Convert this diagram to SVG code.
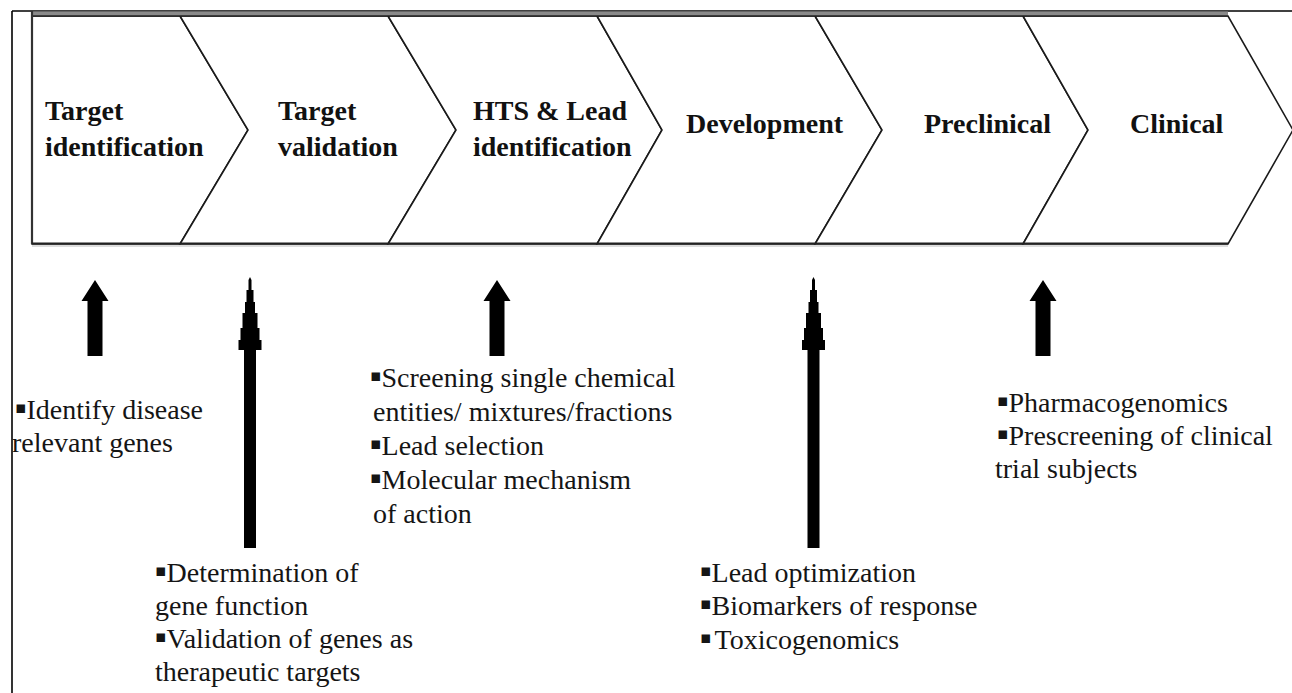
<svg xmlns="http://www.w3.org/2000/svg" width="1292" height="693" viewBox="0 0 1292 693">
<style>
.stage{fill:#fff;stroke:#1a1a1a;stroke-width:1.6;stroke-linejoin:miter}
.hd{font-family:"Liberation Serif","Times New Roman",serif;font-weight:bold;font-size:28px;fill:#111}
.tx{font-family:"Liberation Serif","Times New Roman",serif;font-size:28px;fill:#151515}
.bl{font-family:"DejaVu Sans",sans-serif;font-size:17px}
.arr{fill:#000}
</style>
<defs>
<path id="shortArrow" d="M0,280 L13.5,301 L7.5,301 L7.5,356 L-7.5,356 L-7.5,301 L-13.5,301 Z"/>
<path id="tallArrow" d="M0,277 L1.5,280 L1.5,290 L3.5,290 L3.5,302 L5,302 L5,313 L7.5,313 L7.5,328 L9.5,328 L9.5,340 L11.5,340 L11.5,350 L6,350 L6,548 L-6,548 L-6,350 L-11.5,350 L-11.5,340 L-9.5,340 L-9.5,328 L-7.5,328 L-7.5,313 L-5,313 L-5,302 L-3.5,302 L-3.5,290 L-1.5,290 L-1.5,280 Z"/>
</defs>
<rect width="1292" height="693" fill="#fff"/>
<g id="frame">
<line x1="12" y1="11" x2="12" y2="693" stroke="#000" stroke-width="1.6"/>
<line x1="12" y1="11" x2="1292" y2="11" stroke="#000" stroke-width="1.6"/>
</g>
<g id="stage1">
<polygon class="stage" points="32,16 180,16 248,130 180,244 32,244"/>
<text class="hd" x="45" y="120">Target</text>
<text class="hd" x="45" y="156">identification</text>
</g>
<g id="stage2">
<polygon class="stage" points="180,16 388,16 456,130 388,244 180,244 248,130"/>
<text class="hd" x="278" y="120">Target</text>
<text class="hd" x="278" y="156">validation</text>
</g>
<g id="stage3">
<polygon class="stage" points="388,16 597,16 662,130 597,244 388,244 456,130"/>
<text class="hd" x="473" y="120">HTS &amp; Lead</text>
<text class="hd" x="473" y="156">identification</text>
</g>
<g id="stage4">
<polygon class="stage" points="597,16 815,16 882,130 815,244 597,244 662,130"/>
<text class="hd" x="686" y="133">Development</text>
</g>
<g id="stage5">
<polygon class="stage" points="815,16 1023,16 1088,130 1023,244 815,244 882,130"/>
<text class="hd" x="924" y="133">Preclinical</text>
</g>
<g id="stage6">
<polygon class="stage" points="1023,16 1228,16 1293,130 1228,244 1023,244 1088,130"/>
<text class="hd" x="1130" y="133">Clinical</text>
</g>
<g id="bandEdges">
<rect x="32" y="11.5" width="1196" height="4.5" fill="#8a8a8a"/>
<line x1="32" y1="16" x2="1228" y2="16" stroke="#222" stroke-width="1.4"/>
<line x1="32" y1="11" x2="32" y2="244" stroke="#333" stroke-width="2.2"/>
<line x1="32" y1="243.5" x2="1228" y2="243.5" stroke="#222" stroke-width="1.8"/>
<line x1="32" y1="246" x2="1228" y2="246" stroke="#ddd" stroke-width="2"/>
</g>
<g id="connectors">
<use href="#shortArrow" class="arr" x="95"/>
<use href="#tallArrow" class="arr" x="250"/>
<use href="#shortArrow" class="arr" x="497"/>
<use href="#tallArrow" class="arr" x="813.5"/>
<use href="#shortArrow" class="arr" x="1043"/>
</g>
<g id="note1">
<text class="tx" x="15" y="419"><tspan class="bl" dy="-6">▪</tspan><tspan dy="6">Identify disease</tspan></text>
<text class="tx" x="12" y="452">relevant genes</text>
</g>
<g id="note2">
<text class="tx" x="155" y="582"><tspan class="bl" dy="-6">▪</tspan><tspan dy="6">Determination of</tspan></text>
<text class="tx" x="155" y="615">gene function</text>
<text class="tx" x="155" y="648"><tspan class="bl" dy="-6">▪</tspan><tspan dy="6">Validation of genes as</tspan></text>
<text class="tx" x="155" y="681">therapeutic targets</text>
</g>
<g id="note3">
<text class="tx" x="370" y="387"><tspan class="bl" dy="-6">▪</tspan><tspan dy="6">Screening single chemical</tspan></text>
<text class="tx" x="373" y="421">entities/ mixtures/fractions</text>
<text class="tx" x="370" y="455"><tspan class="bl" dy="-6">▪</tspan><tspan dy="6">Lead selection</tspan></text>
<text class="tx" x="370" y="489"><tspan class="bl" dy="-6">▪</tspan><tspan dy="6">Molecular mechanism</tspan></text>
<text class="tx" x="373" y="523">of action</text>
</g>
<g id="note4">
<text class="tx" x="700" y="582"><tspan class="bl" dy="-6">▪</tspan><tspan dy="6">Lead optimization</tspan></text>
<text class="tx" x="700" y="615"><tspan class="bl" dy="-6">▪</tspan><tspan dy="6">Biomarkers of response</tspan></text>
<text class="tx" x="700" y="649"><tspan class="bl" dy="-6">▪</tspan><tspan dy="6" dx="3">Toxicogenomics</tspan></text>
</g>
<g id="note5">
<text class="tx" x="997" y="412"><tspan class="bl" dy="-6">▪</tspan><tspan dy="6">Pharmacogenomics</tspan></text>
<text class="tx" x="997" y="445"><tspan class="bl" dy="-6">▪</tspan><tspan dy="6">Prescreening of clinical</tspan></text>
<text class="tx" x="995" y="478">trial subjects</text>
</g>
</svg>
